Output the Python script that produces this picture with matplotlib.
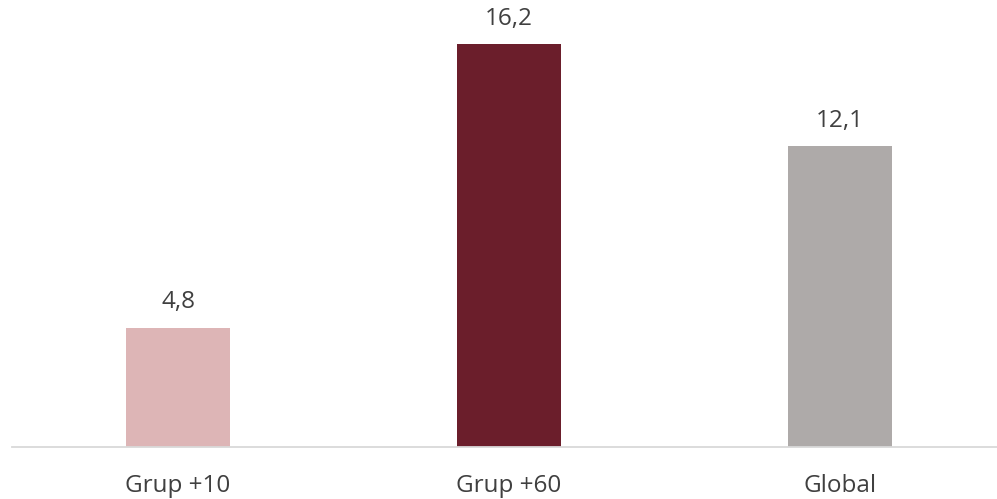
import matplotlib
matplotlib.use("Agg")
import matplotlib.pyplot as plt

# Data
categories = ["Grup +10", "Grup +60", "Global"]
values = [4.8, 16.2, 12.1]
labels = ["4,8", "16,2", "12,1"]
colors = ["#DDB5B6", "#6B1E2B", "#AEAAA9"]

plt.rcParams['font.family'] = ['Open Sans', 'DejaVu Sans']

fig = plt.figure(figsize=(9.97, 4.99), dpi=100)
ax = fig.add_axes([12/997, 52/499, 985/997, 447/499])

x = range(len(categories))
bars = ax.bar(x, values, width=0.314, color=colors)

# value labels above the bars
for b, lab in zip(bars, labels):
    ax.annotate(lab, (b.get_x() + b.get_width()/2, b.get_height()),
                xytext=(0, 14), textcoords='offset points',
                ha='center', va='baseline', fontsize=17.5, color='#404040')

# category labels under the axis
for xi, cat in zip(x, categories):
    ax.annotate(cat, (xi, 0), xytext=(0, -32.4), textcoords='offset points',
                ha='center', va='baseline', fontsize=17.5, color='#404040',
                annotation_clip=False)

ax.set_xlim(-0.5015, 2.474)
ax.set_ylim(0, 17.97)
ax.set_xticks([])
ax.set_yticks([])
for s in ['top', 'right', 'left']:
    ax.spines[s].set_visible(False)
ax.spines['bottom'].set_color('#D9D9D9')
ax.spines['bottom'].set_linewidth(1.3)

fig.savefig("out.png", dpi=100)
